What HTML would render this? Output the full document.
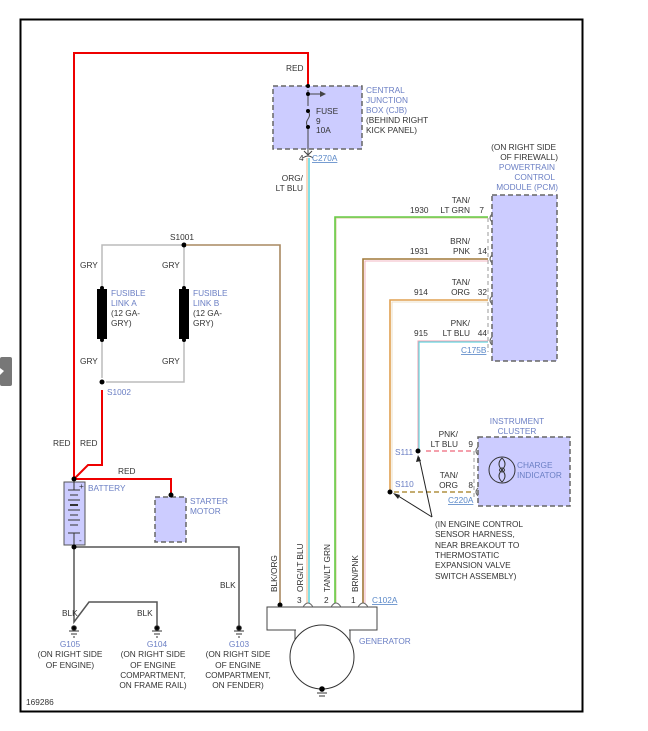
<!DOCTYPE html>
<html><head><meta charset="utf-8"><style>
html,body{margin:0;padding:0;background:#fff;width:648px;height:731px;overflow:hidden}
svg{display:block}
text{font-family:"Liberation Sans",sans-serif;font-size:8.3px;fill:#333}
.b{fill:#6b7fc4}
.u{fill:#5a88c8;text-decoration:underline}
</style></head><body>
<svg width="648" height="731" viewBox="0 0 648 731" xmlns="http://www.w3.org/2000/svg">
<rect x="0" y="0" width="648" height="731" fill="#fff"/>
<rect x="20.5" y="19.5" width="562" height="692" fill="none" stroke="#000" stroke-width="2"/>
<rect x="0" y="357" width="12" height="29" rx="2" fill="#777"/>
<polygon points="0,368 4,371 0,375" fill="#fff"/>

<polyline points="74,480 74,53 308,53 308,90" fill="none" stroke="#e00" stroke-width="2"/>
<polyline points="102,390 102,465 88,465 74,479" fill="none" stroke="#e00" stroke-width="2"/>
<polyline points="74,479 171,479 171,495" fill="none" stroke="#e00" stroke-width="2"/>

<rect x="273" y="86" width="89" height="63" fill="#ccccff" stroke="#666" stroke-width="1.5" stroke-dasharray="5,3"/>
<line x1="308" y1="90" x2="308" y2="106" stroke="#444" stroke-width="1"/>
<line x1="308" y1="127" x2="308" y2="155" stroke="#444" stroke-width="1"/>
<path d="M308,111 q3,4 0,8 q-3,4 0,8" fill="none" stroke="#444"/>
<line x1="308" y1="94" x2="322" y2="94" stroke="#444"/>
<polygon points="326,94 320,91 320,97" fill="#444"/>
<circle cx="308" cy="86" r="2" fill="#000"/>
<circle cx="308" cy="94" r="2" fill="#000"/>
<circle cx="308" cy="111" r="2" fill="#000"/>
<circle cx="308" cy="127" r="2" fill="#000"/>
<path d="M304,151 L308,155 L312,151" fill="none" stroke="#444"/>
<path d="M303,158 q5,-4 10,0" fill="none" stroke="#444"/>
<text x="316" y="114">FUSE</text><text x="316" y="124">9</text><text x="316" y="133">10A</text>
<text x="366" y="93" class="b">CENTRAL</text><text x="366" y="103" class="b">JUNCTION</text><text x="366" y="113" class="b">BOX (CJB)</text>
<text x="366" y="123">(BEHIND RIGHT</text><text x="366" y="133">KICK PANEL)</text>
<text x="286" y="71">RED</text>
<text x="299" y="161">4</text><text x="312" y="161" class="u">C270A</text>
<text x="303" y="181" text-anchor="end">ORG/</text><text x="303" y="191" text-anchor="end">LT BLU</text>

<line x1="307" y1="158" x2="307" y2="603" stroke="#f0b080" stroke-width="1"/>
<line x1="309" y1="158" x2="309" y2="603" stroke="#66d8e0" stroke-width="1.6"/>

<rect x="492" y="195" width="65" height="166" fill="#ccccff" stroke="#666" stroke-width="1.5" stroke-dasharray="5,3"/>
<line x1="488" y1="218" x2="488" y2="352" stroke="#999" stroke-dasharray="4,3"/>
<text x="556" y="150" text-anchor="end">(ON RIGHT SIDE</text>
<text x="558" y="160" text-anchor="end">OF FIREWALL)</text>
<text x="555" y="170" text-anchor="end" class="b">POWERTRAIN</text>
<text x="555" y="180" text-anchor="end" class="b">CONTROL</text>
<text x="558" y="190" text-anchor="end" class="b">MODULE (PCM)</text>

<polyline points="336,603 336,218 488,218" fill="none" stroke="#d8c8a0" stroke-width="1"/>
<polyline points="335,603 335,217 488,217" fill="none" stroke="#66cc44" stroke-width="1.6"/>
<text x="410" y="213">1930</text><text x="470" y="203" text-anchor="end">TAN/</text><text x="470" y="213" text-anchor="end">LT GRN</text><text x="484" y="213" text-anchor="end">7</text>
<polyline points="363,603 363,259 488,259" fill="none" stroke="#a07838" stroke-width="1.6"/>
<polyline points="365,603 365,261 488,261" fill="none" stroke="#f0a0b0" stroke-width="0.8"/>
<text x="410" y="254">1931</text><text x="470" y="244" text-anchor="end">BRN/</text><text x="470" y="254" text-anchor="end">PNK</text><text x="487" y="254" text-anchor="end">14</text>
<polyline points="390,491 390,300 488,300" fill="none" stroke="#e0a050" stroke-width="1.6"/>
<polyline points="392,491 392,302 488,302" fill="none" stroke="#e8d8b8" stroke-width="0.8"/>
<text x="414" y="295">914</text><text x="470" y="285" text-anchor="end">TAN/</text><text x="470" y="295" text-anchor="end">ORG</text><text x="487" y="295" text-anchor="end">32</text>
<polyline points="418,451 418,341 488,341" fill="none" stroke="#f0a0b0" stroke-width="1"/>
<polyline points="419,451 419,342 488,342" fill="none" stroke="#66d8e0" stroke-width="1.2"/>
<text x="414" y="336">915</text><text x="470" y="326" text-anchor="end">PNK/</text><text x="470" y="336" text-anchor="end">LT BLU</text><text x="487" y="336" text-anchor="end">44</text>
<text x="461" y="353" class="u">C175B</text>
<g fill="none" stroke="#666"><path d="M492,214 q-4,4 0,8"/><path d="M492,255 q-4,4 0,8"/><path d="M492,296 q-4,4 0,8"/><path d="M492,337 q-4,4 0,8"/></g>

<rect x="478" y="437" width="92" height="69" fill="#ccccff" stroke="#666" stroke-width="1.5" stroke-dasharray="5,3"/>
<line x1="474" y1="451" x2="474" y2="500" stroke="#999" stroke-dasharray="4,3"/>
<text x="517" y="424" text-anchor="middle" class="b">INSTRUMENT</text>
<text x="517" y="434" text-anchor="middle" class="b">CLUSTER</text>
<circle cx="502" cy="470" r="13" fill="none" stroke="#333"/>
<path d="M502,458 q-6,6 0,12 q6,6 0,12" fill="none" stroke="#333"/>
<path d="M502,458 q6,6 0,12 q-6,6 0,12" fill="none" stroke="#333"/>
<ellipse cx="502" cy="470" rx="2.5" ry="2" fill="none" stroke="#333"/>
<text x="517" y="468" class="b">CHARGE</text><text x="517" y="478" class="b">INDICATOR</text>
<line x1="426" y1="451" x2="474" y2="451" stroke="#f08090" stroke-width="1.5" stroke-dasharray="5,3"/>
<line x1="394" y1="492" x2="474" y2="492" stroke="#b09040" stroke-width="1.5" stroke-dasharray="5,3"/>
<g fill="none" stroke="#666"><path d="M478,447 q-4,4 0,8"/><path d="M478,488 q-4,4 0,8"/></g>
<text x="458" y="437" text-anchor="end">PNK/</text><text x="458" y="447" text-anchor="end">LT BLU</text><text x="473" y="447" text-anchor="end">9</text>
<text x="458" y="478" text-anchor="end">TAN/</text><text x="458" y="488" text-anchor="end">ORG</text><text x="473" y="488" text-anchor="end">8</text>
<text x="448" y="503" class="u">C220A</text>
<circle cx="418" cy="451" r="2.5" fill="#000"/><circle cx="390" cy="492" r="2.5" fill="#000"/>
<text x="395" y="455" class="b">S111</text><text x="395" y="487" class="b">S110</text>
<line x1="432" y1="517" x2="419" y2="457" stroke="#222"/>
<polygon points="418,455 416,462 421,461" fill="#222"/>
<line x1="432" y1="517" x2="395" y2="494" stroke="#222"/>
<polygon points="393,493 398,499 400,495" fill="#222"/>
<text x="435" y="527">(IN ENGINE CONTROL</text><text x="435" y="537">SENSOR HARNESS,</text><text x="435" y="548">NEAR BREAKOUT TO</text>
<text x="435" y="558">THERMOSTATIC</text><text x="435" y="568">EXPANSION VALVE</text><text x="435" y="579">SWITCH ASSEMBLY)</text>

<polyline points="184,245 102,245 102,288" fill="none" stroke="#bbb" stroke-width="1.5"/>
<line x1="184" y1="245" x2="184" y2="288" stroke="#bbb" stroke-width="1.5"/>
<polyline points="102,339 102,378" fill="none" stroke="#bbb" stroke-width="1.5"/>
<polyline points="184,339 184,382 106,382" fill="none" stroke="#bbb" stroke-width="1.5"/>
<rect x="97" y="289" width="10" height="50" fill="#000"/><rect x="179" y="289" width="10" height="50" fill="#000"/>
<circle cx="102" cy="288" r="2" fill="#000"/><circle cx="102" cy="340" r="2" fill="#000"/>
<circle cx="184" cy="288" r="2" fill="#000"/><circle cx="184" cy="340" r="2" fill="#000"/>
<circle cx="102" cy="382" r="2.5" fill="#000"/><circle cx="184" cy="245" r="2.5" fill="#000"/>
<text x="170" y="240">S1001</text><text x="107" y="395" class="b">S1002</text>
<text x="80" y="268">GRY</text><text x="162" y="268">GRY</text><text x="80" y="364">GRY</text><text x="162" y="364">GRY</text>
<text x="111" y="296" class="b">FUSIBLE</text><text x="111" y="306" class="b">LINK A</text><text x="111" y="316">(12 GA-</text><text x="111" y="326">GRY)</text>
<text x="193" y="296" class="b">FUSIBLE</text><text x="193" y="306" class="b">LINK B</text><text x="193" y="316">(12 GA-</text><text x="193" y="326">GRY)</text>
<text x="53" y="446">RED</text><text x="80" y="446">RED</text><text x="118" y="474">RED</text>

<polyline points="186,245 280,245 280,605" fill="none" stroke="#a88860" stroke-width="1.6"/>
<circle cx="280" cy="605" r="2.5" fill="#000"/>

<rect x="64" y="482" width="21" height="63" fill="#ccccff" stroke="#555"/>
<circle cx="74" cy="479" r="2.5" fill="#000"/>
<g stroke="#333"><line x1="74" y1="482" x2="74" y2="490"/><line x1="68" y1="490" x2="80" y2="490"/><line x1="70" y1="495" x2="78" y2="495"/><line x1="68" y1="500" x2="80" y2="500"/><line x1="70" y1="505" x2="78" y2="505" stroke-width="2"/><line x1="68" y1="510" x2="80" y2="510"/><line x1="70" y1="515" x2="78" y2="515"/><line x1="68" y1="520" x2="80" y2="520"/><line x1="70" y1="525" x2="78" y2="525"/><line x1="68" y1="533" x2="80" y2="533"/><line x1="74" y1="533" x2="74" y2="545"/></g>
<text x="79" y="489" font-size="7">+</text><text x="79" y="543" font-size="7">-</text>
<text x="88" y="491" class="b">BATTERY</text>
<rect x="155" y="497" width="31" height="45" fill="#ccccff" stroke="#666" stroke-width="1.5" stroke-dasharray="5,3"/>
<circle cx="171" cy="495" r="2.5" fill="#000"/>
<text x="190" y="504" class="b">STARTER</text><text x="190" y="514" class="b">MOTOR</text>

<polyline points="74,547 239,547 239,627" fill="none" stroke="#555" stroke-width="1.5"/>
<polyline points="74,547 74,622 89,602 157,602 157,627" fill="none" stroke="#555" stroke-width="1.5"/>
<circle cx="74" cy="547" r="2.5" fill="#000"/>
<g fill="#000" stroke="#333">
<circle cx="74" cy="628" r="2.3"/><line x1="69" y1="631" x2="79" y2="631"/><line x1="71" y1="634" x2="77" y2="634"/><line x1="73" y1="637" x2="75" y2="637"/>
<circle cx="157" cy="628" r="2.3"/><line x1="152" y1="631" x2="162" y2="631"/><line x1="154" y1="634" x2="160" y2="634"/><line x1="156" y1="637" x2="158" y2="637"/>
<circle cx="239" cy="628" r="2.3"/><line x1="234" y1="631" x2="244" y2="631"/><line x1="236" y1="634" x2="242" y2="634"/><line x1="238" y1="637" x2="240" y2="637"/>
</g>
<text x="62" y="616">BLK</text><text x="137" y="616">BLK</text><text x="220" y="588">BLK</text>
<g text-anchor="middle">
<text x="70" y="647" class="b">G105</text><text x="70" y="657">(ON RIGHT SIDE</text><text x="70" y="668">OF ENGINE)</text>
<text x="157" y="647" class="b">G104</text><text x="153" y="657">(ON RIGHT SIDE</text><text x="153" y="668">OF ENGINE</text><text x="153" y="678">COMPARTMENT,</text><text x="153" y="688">ON FRAME RAIL)</text>
<text x="239" y="647" class="b">G103</text><text x="238" y="657">(ON RIGHT SIDE</text><text x="238" y="668">OF ENGINE</text><text x="238" y="678">COMPARTMENT,</text><text x="238" y="688">ON FENDER)</text>
</g>
<text x="26" y="705" font-size="7.5">169286</text>

<rect x="267" y="607" width="110" height="23" fill="#fff" stroke="#444"/>
<line x1="295" y1="630" x2="295" y2="642" stroke="#444"/>
<line x1="350" y1="630" x2="350" y2="642" stroke="#444"/>
<rect x="296" y="629" width="53" height="3" fill="#fff"/>
<circle cx="322" cy="657" r="32" fill="#fff" stroke="#333"/>
<circle cx="322" cy="689" r="2.8" fill="#000"/>
<g stroke="#333"><line x1="317" y1="693" x2="327" y2="693"/><line x1="319" y1="696" x2="325" y2="696"/></g>
<text x="359" y="644" class="b">GENERATOR</text>
<g fill="none" stroke="#666"><path d="M303,607 q5,-8 10,0"/><path d="M331,607 q5,-8 10,0"/><path d="M358,607 q5,-8 10,0"/></g>
<text x="297" y="603">3</text><text x="324" y="603">2</text><text x="351" y="603">1</text>
<text x="372" y="603" class="u">C102A</text>
<text transform="translate(277,592) rotate(-90)">BLK/ORG</text>
<text transform="translate(303,592) rotate(-90)">ORG/LT BLU</text>
<text transform="translate(330,592) rotate(-90)">TAN/LT GRN</text>
<text transform="translate(358,592) rotate(-90)">BRN/PNK</text>
</svg>
</body></html>
